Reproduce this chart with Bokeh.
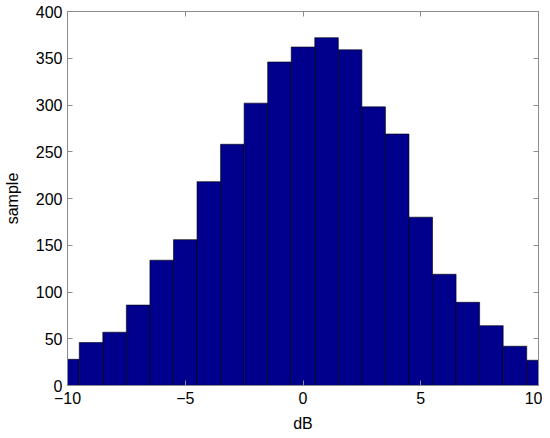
from bokeh.plotting import figure
from bokeh.models import Range1d, LinearAxis, FixedTicker, CustomJSTickFormatter
from bokeh.embed import file_html
from bokeh.resources import INLINE

centers = [-10, -9, -8, -7, -6, -5, -4, -3, -2, -1, 0, 1, 2, 3, 4, 5, 6, 7, 8, 9, 10]
counts = [28, 46, 57, 86, 134, 156, 218, 258, 302, 346, 362, 372, 359, 298, 269, 180, 119, 89, 64, 42, 27]
x_ticks = [-10, -5, 0, 5, 10]
y_ticks = [0, 50, 100, 150, 200, 250, 300, 350, 400]

FONT = "Liberation Sans"
AX_COLOR = "#8c8c8c"

p = figure(width=542, height=434, output_backend="svg", toolbar_location=None,
           x_range=Range1d(-10, 10), y_range=Range1d(0, 400),
           min_border_left=67, min_border_right=4, min_border_top=11, min_border_bottom=45)
p.vbar(x=centers, top=counts, width=1.0, bottom=0,
       fill_color="#00008C", line_color="#000000", line_width=0.6)

p.grid.visible = False
p.outline_line_color = AX_COLOR
p.xaxis.axis_label = "dB"
p.yaxis.axis_label = "sample"

def style(ax, labels=True):
    ax.axis_line_color = AX_COLOR
    ax.major_tick_line_color = AX_COLOR
    ax.major_tick_in = 5
    ax.major_tick_out = 0
    ax.minor_tick_line_color = None
    ax.major_label_text_font = FONT
    ax.major_label_text_font_size = "16px"
    ax.major_label_text_color = "#000000"
    ax.axis_label_text_font = FONT
    ax.axis_label_text_font_size = "16px"
    ax.axis_label_text_font_style = "normal"
    ax.axis_label_text_color = "#000000"
    if not labels:
        ax.formatter = CustomJSTickFormatter(code="return '';")
        ax.major_label_standoff = 0

for ax in p.xaxis:
    ax.ticker = FixedTicker(ticks=x_ticks)
    style(ax)
    ax.major_label_standoff = 6
    ax.axis_label_standoff = 8
for ax in p.yaxis:
    ax.ticker = FixedTicker(ticks=y_ticks)
    style(ax)
    ax.major_label_standoff = 5
    ax.axis_label_standoff = 12

top = LinearAxis(ticker=FixedTicker(ticks=x_ticks))
style(top, labels=False)
right = LinearAxis(ticker=FixedTicker(ticks=y_ticks))
style(right, labels=False)
p.add_layout(top, "above")
p.add_layout(right, "right")

open("out.html", "w").write(file_html(p, INLINE))
